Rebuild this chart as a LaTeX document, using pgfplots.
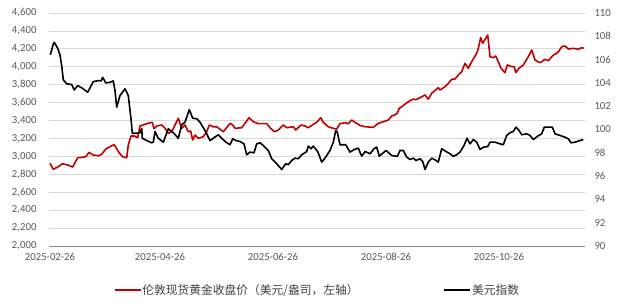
\documentclass[border=0pt]{standalone}
\usepackage{fontspec}
\setmainfont{Carlito}
\newfontfamily\cjk{Noto Sans CJK SC}
\usepackage{pgfplots}
\pgfplotsset{compat=1.18}
\definecolor{goldred}{RGB}{192,0,0}
\definecolor{gridgray}{RGB}{217,217,217}
\definecolor{axgray}{RGB}{137,137,137}
\definecolor{lblgray}{RGB}{89,89,89}
\begin{document}
\begin{tikzpicture}
\pgfplotsset{
  base/.style={scale only axis, width=536bp, height=233bp, xmin=49, xmax=585,
    major tick length=0pt,
    tick label style={font=\fontsize{10.8}{12}\selectfont, text=lblgray},
    /pgf/number format/assume math mode=true,
    clip=false,
  }
}
\begin{axis}[base, name=main,
  ymin=2000, ymax=4600, ytick={2000,2200,...,4600},
  /pgf/number format/1000 sep={,},
  yticklabel style={xshift=-9bp},
  ymajorgrids, grid style={gridgray, line width=0.75pt},
  axis x line*=bottom, axis y line*=left,
  y axis line style={draw=none}, x axis line style={axgray, line width=0.8pt},
  xtick={50,160,273,386,499},
  xticklabels={2025-02-26,2025-04-26,2025-06-26,2025-08-26,2025-10-26},
  xticklabel style={yshift=-3.5bp},
  legend style={draw=none, fill=none, legend columns=2,
    font=\cjk\fontsize{11.8}{13}\selectfont, text=black!75,
    /tikz/every even column/.append style={column sep=84bp},
    nodes={inner sep=1bp},
    at={(0.5,-0.189)}, anchor=center},
  legend image code/.code={\draw[#1] (0bp,0bp) -- (26bp,0bp);},
]
\addplot[goldred, line width=1.6bp, line join=round] coordinates {
(50,2923)(53.3,2856)(58.3,2885)(62.3,2918)(67.7,2904)(72.7,2881)(77.7,2985)(81.7,2989)(85.7,2996)(89,3045)(93.3,3015)(98.3,3007)(101.7,3023)(105.7,3082)(110,3108)(114,3130)(115.7,3105)(119,3041)(122.7,2996)(126.7,2985)(128.3,3127)(131,3227)(134.3,3227)(137.7,3208)(140,3339)(145,3358)(150,3376)(152.3,3380)(154,3310)(156.7,3339)(161.7,3350)(165,3313)(168.3,3257)(171.7,3275)(175,3350)(178.3,3425)(181.7,3313)(185,3350)(188.3,3275)(190.7,3283)(192.7,3183)(195,3238)(198.3,3201)(203.3,3220)(206.7,3275)(209.3,3350)(213.3,3331)(216.7,3331)(220,3302)(223.3,3275)(227.3,3331)(230,3369)(232.7,3350)(235,3313)(241.7,3320)(245,3369)(249,3432)(253.3,3387)(258.3,3365)(266.7,3365)(270,3320)(274.3,3275)(278.3,3294)(283.3,3350)(286.7,3320)(293.3,3331)(295.7,3294)(301,3350)(305,3339)(308.3,3320)(312.3,3350)(316.7,3380)(320.7,3432)(323.3,3380)(328.3,3331)(333.3,3313)(336.7,3305)(340,3365)(345,3376)(348.3,3365)(351.7,3406)(355,3380)(360,3345)(365,3331)(373.3,3324)(378.3,3369)(383.3,3387)(388.3,3406)(391.7,3450)(396.7,3473)(399.3,3536)(402.7,3562)(406,3592)(410,3621)(413.3,3640)(416,3632)(420,3655)(425,3685)(428.3,3640)(431.7,3704)(438.3,3766)(440,3741)(445,3778)(448.3,3815)(451.7,3860)(455,3863)(458.3,3908)(461.7,3945)(465,4039)(468.3,3983)(471.7,4057)(476.7,4150)(478.3,4206)(480.7,4325)(482.7,4262)(485.7,4318)(487.7,4354)(490,4112)(493.3,4101)(495.7,4120)(498.3,4057)(501,3983)(505,3934)(507.3,4020)(511.7,4001)(514.3,4001)(515.7,3934)(519,3983)(523.3,4020)(528.3,4112)(531.7,4187)(535,4075)(540,4045)(545,4083)(548.3,4068)(553.3,4131)(556.7,4150)(559,4176)(561.7,4224)(565,4232)(568.3,4198)(573.3,4206)(578.3,4195)(581.7,4213)(583.7,4206)
};
\addlegendentry{伦敦现货黄金收盘价（美元/盎司，左轴）}
\addlegendimage{black, line width=1.6bp}
\addlegendentry{美元指数}
\end{axis}
\begin{axis}[base,
  ymin=90, ymax=110, ytick={90,92,...,110},
  hide x axis, axis y line*=right, y axis line style={draw=none},
  yticklabel style={xshift=6bp},
]
\addplot[black, line width=1.6bp, line join=round] coordinates {
(50.3,106.4)(53.3,107.34)(54.3,107.48)(57.7,106.97)(60,106.4)(61.7,105.48)(63.3,104.26)(66.7,103.92)(71.7,103.86)(74.3,103.4)(77.7,103.77)(82.3,103.54)(87.7,103.2)(93.3,104.11)(98.3,104.2)(101,104.17)(102.7,104.48)(105.7,104.0)(110,104.05)(113.3,104.17)(115,103.34)(116.7,101.91)(120,102.91)(125,103.49)(128.3,102.91)(131,100.92)(132.3,99.68)(136.7,99.68)(140,99.72)(141.7,100.1)(142.3,99.25)(146.7,99.05)(151.7,98.86)(153.3,98.91)(155,99.83)(158.3,99.25)(163.3,98.91)(168.3,100.06)(173.3,99.72)(178.3,99.25)(181.7,100.4)(185,100.63)(189.3,101.71)(192.7,100.97)(196.7,100.92)(200,100.63)(204,100.06)(206.7,99.63)(210,99.05)(213.3,99.25)(218.3,99.55)(221.7,99.25)(226,98.91)(230,98.69)(232.7,99.2)(236,99.05)(240,98.97)(244,98.77)(246.7,97.83)(250,98.06)(254,98.0)(256.7,98.77)(260,98.86)(263.3,98.63)(268.3,98.2)(271.7,97.49)(276.7,97.06)(281.7,96.57)(285.7,97.06)(288.3,96.98)(291.7,97.34)(295,97.54)(298.3,97.49)(301.7,97.83)(306.7,98.11)(308.3,98.57)(311,98.35)(313.3,98.57)(317.7,98.11)(321.7,97.2)(325,97.54)(330,98.2)(333.3,98.91)(335.7,99.91)(337.3,99.77)(340,98.69)(345.7,98.69)(350,98.06)(354.3,98.29)(358.3,98.4)(361.7,97.71)(365,98.11)(370,97.92)(374,98.35)(376.7,98.48)(379.3,97.71)(386,98.2)(391.7,97.77)(397.3,97.69)(400,98.2)(403.3,98.2)(406.7,97.63)(410,97.43)(413.3,97.54)(416,97.34)(420,97.49)(422.7,97.26)(425,96.57)(428.3,97.2)(431.7,97.54)(435,97.4)(438.3,97.2)(441.7,98.35)(446,98.11)(450,97.92)(453.3,97.69)(456.7,97.83)(460,98.06)(464,98.63)(467,99.25)(470,98.77)(473.3,99.14)(476.7,98.91)(480,98.29)(483.3,98.48)(487.7,98.54)(490,98.91)(495,98.91)(500,98.77)(503.3,98.69)(506.7,99.49)(510,99.72)(513.3,99.83)(516,100.2)(518.3,100.0)(521.7,99.55)(526.7,99.63)(530,99.49)(533.3,99.14)(537.7,99.43)(541.7,99.63)(544.3,100.2)(548.3,100.2)(552.3,100.2)(555,99.63)(560,99.49)(565,99.34)(568.3,99.2)(571,98.86)(575,98.91)(580,99.05)(583.3,99.14)
};
\end{axis}
\pgfresetboundingbox
\path ([shift={(-49bp,-59bp)}]main.south west) rectangle ([shift={(37bp,13bp)}]main.north east);
\end{tikzpicture}
\end{document}
